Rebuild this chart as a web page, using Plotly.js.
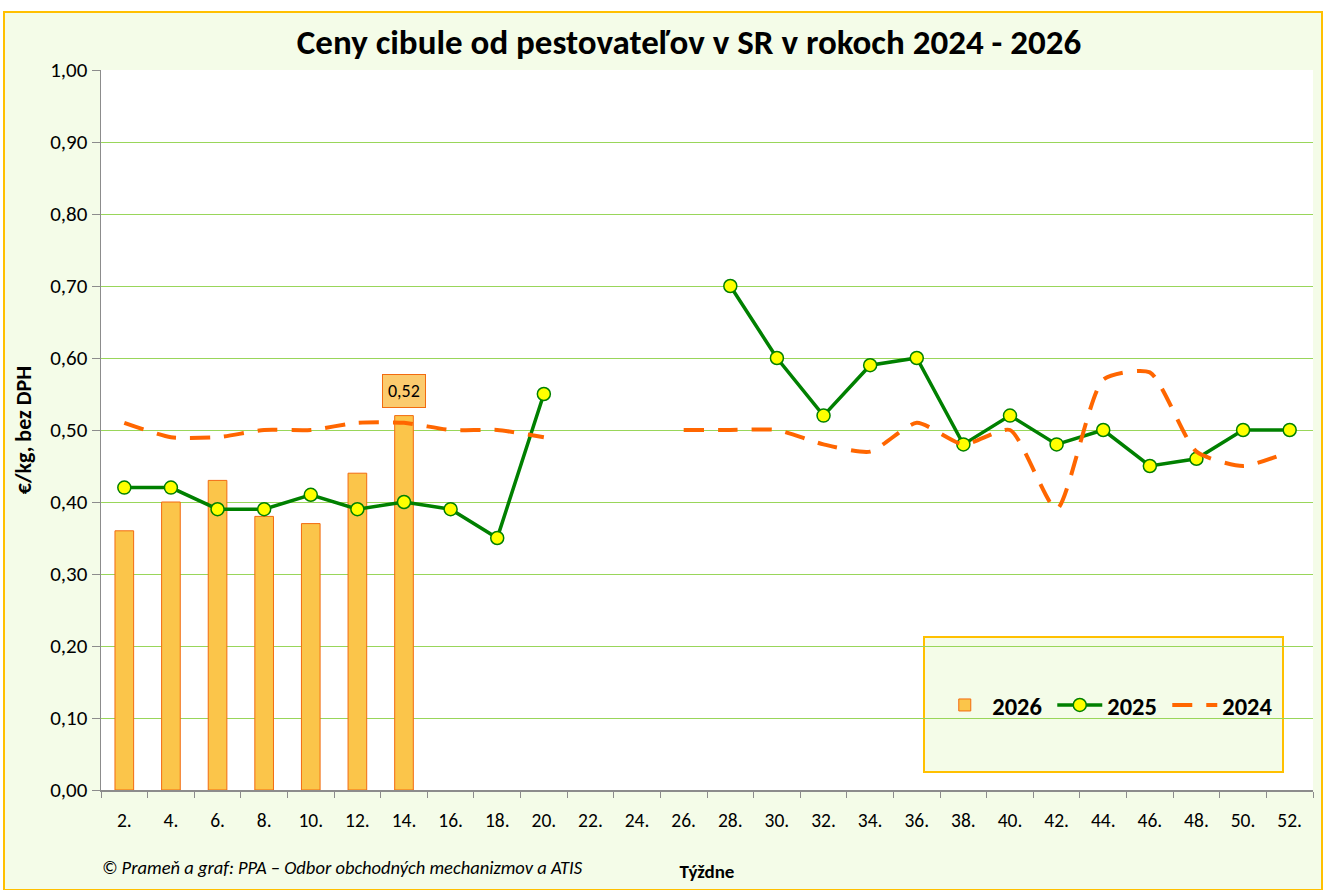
<!DOCTYPE html>
<html>
<head>
<meta charset="utf-8">
<script src="https://cdn.plot.ly/plotly-3.0.1.min.js"></script>
<style>
  html, body { margin: 0; padding: 0; background: #ffffff; }
  #frame { position: absolute; left: 3px; top: 11px; width: 1320px; height: 880px;
           background: #F4FCE8; border: 2px solid #FFC000; box-sizing: border-box; }
  #chart { position: absolute; left: 0; top: 0; width: 1325px; height: 890px; }
</style>
</head>
<body>
<div id="frame"></div>
<div id="chart"></div>
<script>
const weeks = ['2.','4.','6.','8.','10.','12.','14.','16.','18.','20.','22.','24.','26.',
               '28.','30.','32.','34.','36.','38.','40.','42.','44.','46.','48.','50.','52.'];
const y2026 = [0.36,0.40,0.43,0.38,0.37,0.44,0.52,null,null,null,null,null,null,
               null,null,null,null,null,null,null,null,null,null,null,null,null];
const y2025 = [0.42,0.42,0.39,0.39,0.41,0.39,0.40,0.39,0.35,0.55,null,null,null,
               0.70,0.60,0.52,0.59,0.60,0.48,0.52,0.48,0.50,0.45,0.46,0.50,0.50];
const y2024 = [0.51,0.49,0.49,0.50,0.50,0.51,0.51,0.50,0.50,0.49,null,null,0.50,
               0.50,0.50,0.48,0.47,0.51,0.48,0.50,0.39,0.57,0.58,0.47,0.45,0.47];
const labelWeek = '14.';
const labelValue = 0.52;

const font = "Carlito, Calibri, 'Liberation Sans Narrow', 'Liberation Sans', sans-serif";

const traces = [
  { type: 'bar', name: '2026', x: weeks, y: y2026, width: 0.4,
    marker: { color: '#FBC54A', line: { color: '#F26B10', width: 1 } },
    hoverinfo: 'skip' },
  { type: 'scatter', mode: 'lines+markers', name: '2025', x: weeks, y: y2025,
    line: { color: '#008000', width: 3.5 },
    marker: { color: '#FFFF00', size: 13, line: { color: '#008000', width: 1.5 } },
    connectgaps: false },
  { type: 'scatter', mode: 'lines', name: '2024', x: weeks, y: y2024,
    line: { color: '#FF6600', width: 4, dash: '20px,14px', shape: 'spline', smoothing: 0.6 },
    connectgaps: false }
];

const layout = {
  width: 1325, height: 890,
  paper_bgcolor: 'rgba(0,0,0,0)',
  plot_bgcolor: '#ffffff',
  separators: ', ',
  margin: { l: 101, r: 12, t: 70, b: 100, autoexpand: false },
  font: { family: font, color: '#000000', size: 18 },
  title: { text: '<b>Ceny cibule od pestovateľov v SR v rokoch 2024 - 2026</b>',
           x: 0.52, xanchor: 'center', y: 0.953, yanchor: 'middle',
           font: { family: font, size: 35, color: '#000000' } },
  bargap: 0.6,
  xaxis: {
    type: 'category', categoryorder: 'array', categoryarray: weeks,
    range: [-0.5, 25.5],
    showline: true, linecolor: '#8C8C8C', linewidth: 1.5,
    ticks: 'outside', tickson: 'boundaries', ticklen: 6, tickcolor: '#8C8C8C',
    ticklabelstandoff: 12,
    tickfont: { family: font, size: 19.5, color: '#000' },
    showgrid: false, zeroline: false,
    title: { text: '<b>Týždne</b>', font: { family: font, size: 19 }, standoff: 34 }
  },
  yaxis: {
    range: [0, 1.0], dtick: 0.1, tickformat: '.2f',
    showline: true, linecolor: '#8C8C8C', linewidth: 1.5,
    ticks: 'outside', ticklen: 8, tickcolor: '#8C8C8C',
    tickfont: { family: font, size: 21, color: '#000' },
    showgrid: true, gridcolor: '#99D65A', gridwidth: 1, zeroline: false,
    title: { text: '<b>€/kg, bez DPH</b>', font: { family: font, size: 22 }, standoff: 12 }
  },
  showlegend: true,
  legend: {
    orientation: 'h', x: 0.69, xanchor: 'left', y: 0.118, yanchor: 'middle',
    bgcolor: 'rgba(0,0,0,0)', borderwidth: 0,
    font: { family: font, size: 24.5, color: '#000', weight: 'bold' },
    traceorder: 'normal', itemwidth: 45, entrywidth: 55
  },
  shapes: [
    { type: 'rect', xref: 'paper', yref: 'paper',
      x0: (924-101)/1212, x1: (1283-101)/1212, y0: (790-772)/720, y1: (790-637)/720,
      fillcolor: '#F4FCE8', line: { color: '#FFC000', width: 2 }, layer: 'below' }
  ],
  annotations: [
    { x: weeks.indexOf(labelWeek), y: labelValue, xref: 'x', yref: 'y',
      text: String(labelValue).replace('.', ','),
      showarrow: false, yanchor: 'bottom', yshift: 8,
      bgcolor: '#FBCB6E', bordercolor: '#F26B10', borderwidth: 1, borderpad: 5,
      font: { family: font, size: 18, color: '#000' } },
    { xref: 'paper', yref: 'paper', x: -0.001, y: -0.108, xanchor: 'left', yanchor: 'middle',
      text: '<i>© Prameň a graf: PPA – Odbor obchodných mechanizmov a ATIS</i>',
      showarrow: false, font: { family: font, size: 18.5, color: '#000' } }
  ]
};

Plotly.newPlot('chart', traces, layout, { displayModeBar: false, staticPlot: true });
</script>
</body>
</html>
